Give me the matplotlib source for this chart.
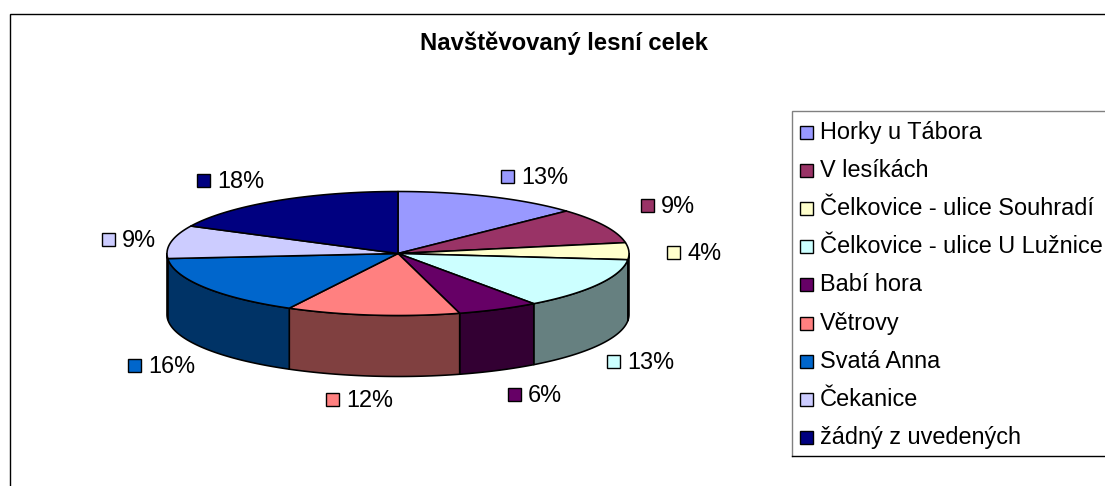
import numpy as np
import matplotlib
matplotlib.use("Agg")
import matplotlib.pyplot as plt
from matplotlib.patches import Rectangle, Polygon
from matplotlib.colors import to_rgb

plt.rcParams['font.family'] = ['Liberation Sans', 'DejaVu Sans']

title = "Navštěvovaný lesní celek"
categories = ["Horky u Tábora", "V lesíkách", "Čelkovice - ulice Souhradí",
              "Čelkovice - ulice U Lužnice", "Babí hora", "Větrovy",
              "Svatá Anna", "Čekanice", "žádný z uvedených"]
values = [13.0, 9.2, 4.4, 13.4, 5.7, 12.1, 15.9, 8.6, 17.7]
colors = ["#9999FF", "#993366", "#FFFFCC", "#CCFFFF", "#660066",
          "#FF8080", "#0066CC", "#CCCCFF", "#000080"]

# layout (pixels)
CX, CY, RX, RY, DEPTH = 398.0, 253.5, 231.0, 62.0, 61.0
LABEL_BOX = [(501, 170), (641, 199), (667, 246), (607, 355), (508, 388),
             (326, 393), (128, 359), (102, 233), (197, 174)]
FS = 16.9
LW = 1.15

fig = plt.figure(figsize=(11.05, 4.86), dpi=100)
ax = fig.add_axes([0, 0, 1, 1])
ax.set_xlim(0, 1105)
ax.set_ylim(486, 0)
ax.axis("off")


def rim(a0, a1, dy=0.0):
    t = np.radians(np.linspace(a0, a1, max(3, int(abs(a1 - a0) * 2))))
    return np.column_stack([CX + RX * np.sin(t), CY - RY * np.cos(t) + dy])


# outer chart frame, cut off by the image at right and bottom
ax.plot([9.5, 9.5, 1105], [486, 14.5, 14.5], color="black", lw=1.0, solid_joinstyle="miter")

ax.text(564.5, 43.5, title, ha="center", va="center", fontsize=17.2, fontweight="bold", color="black")

edges = np.cumsum([0.0] + values) / sum(values) * 360.0

# side walls (front half only)
for i, c in enumerate(colors):
    a0, a1 = max(edges[i], 90.0), min(edges[i + 1], 270.0)
    if a1 <= a0:
        continue
    upper = rim(a0, a1)
    lower = rim(a0, a1, DEPTH)[::-1]
    ax.add_patch(Polygon(np.vstack([upper, lower]), closed=True,
                         fc=tuple(v * 0.5 for v in to_rgb(c)), ec="black", lw=LW, joinstyle="round"))

# top faces
for i, c in enumerate(colors):
    pts = np.vstack([[CX, CY], rim(edges[i], edges[i + 1])])
    ax.add_patch(Polygon(pts, closed=True, fc=c, ec="black", lw=LW, joinstyle="round"))

# data labels
for (x, y), c, v in zip(LABEL_BOX, colors, values):
    ax.add_patch(Rectangle((x, y), 13, 13, fc=c, ec="black", lw=1.0))
    ax.text(x + 20, y + 5, f"{round(v)}%", ha="left", va="center_baseline", fontsize=FS, color="black")

# legend
ax.plot([1105, 791.5, 791.5], [111.5, 111.5, 455.5], color="#808080", lw=1.0, solid_joinstyle="miter")
ax.plot([791.5, 1105], [455.5, 455.5], color="black", lw=1.0)
for i, (c, name) in enumerate(zip(colors, categories)):
    y = 132 + i * 38.2
    ax.add_patch(Rectangle((800, y - 6.5), 13, 13, fc=c, ec="black", lw=1.0))
    ax.text(820, y - 2.5, name, ha="left", va="center_baseline", fontsize=FS, color="black")

fig.savefig("out.png", dpi=100, facecolor="white")
